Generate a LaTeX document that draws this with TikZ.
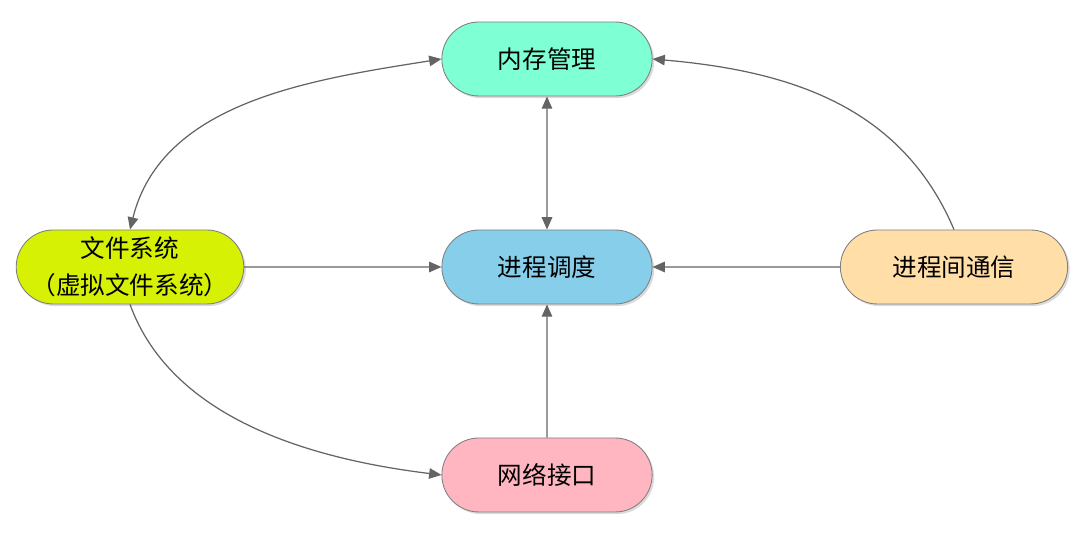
\documentclass[tikz,border=0pt]{standalone}
\usepackage{fontspec}
\setmainfont{Noto Sans CJK SC}
\usetikzlibrary{shapes.misc,arrows.meta,shadows}

\definecolor{memcol}{RGB}{127,255,212}
\definecolor{schedcol}{RGB}{135,206,235}
\definecolor{fscol}{RGB}{214,241,4}
\definecolor{ipccol}{RGB}{255,222,168}
\definecolor{netcol}{RGB}{255,182,193}
\definecolor{linecol}{RGB}{100,100,100}

\begin{document}
\begin{tikzpicture}[x=0.02cm, y=0.02cm,
    box/.style={rounded rectangle, draw=black!50, line width=0.5pt, minimum height=1.48cm,
        font=\fontsize{14pt}{21pt}\selectfont, align=center,
        drop shadow={shadow xshift=1.2pt, shadow yshift=-1.2pt, fill=black!40, opacity=0.35}},
    link/.style={draw=linecol, line width=0.7pt, -{Triangle[length=7pt,width=6pt]}},
    both/.style={link, {Triangle[length=7pt,width=6pt]}-{Triangle[length=7pt,width=6pt]}}]
    \useasboundingbox (0,0) rectangle (1080,536);

    \node[box, fill=memcol, minimum width=4.44cm] (mem) at (547,477) {内存管理};
    \node[box, fill=schedcol, minimum width=4.44cm] (sched) at (547,269) {进程调度};
    \node[box, fill=fscol, inner xsep=0pt] (fs) at (130,269) {文件系统\\（虚拟文件系统）};
    \node[box, fill=ipccol, minimum width=4.78cm] (ipc) at (954,269) {进程间通信};
    \node[box, fill=netcol, minimum width=4.44cm] (net) at (547,61) {网络接口};

    \draw[both] (mem) -- (sched);
    \draw[link] (fs) -- (sched);
    \draw[link] (ipc) -- (sched);
    \draw[link] (net) -- (sched);

    \draw[both] (fs.north) to[out=76, in=189, looseness=0.95] (mem.west);
    \draw[link] (ipc.north) to[out=113, in=-5] (mem.east);
    \draw[link] (fs.south) to[out=-70, in=173, looseness=0.9] (net.west);
\end{tikzpicture}
\end{document}
